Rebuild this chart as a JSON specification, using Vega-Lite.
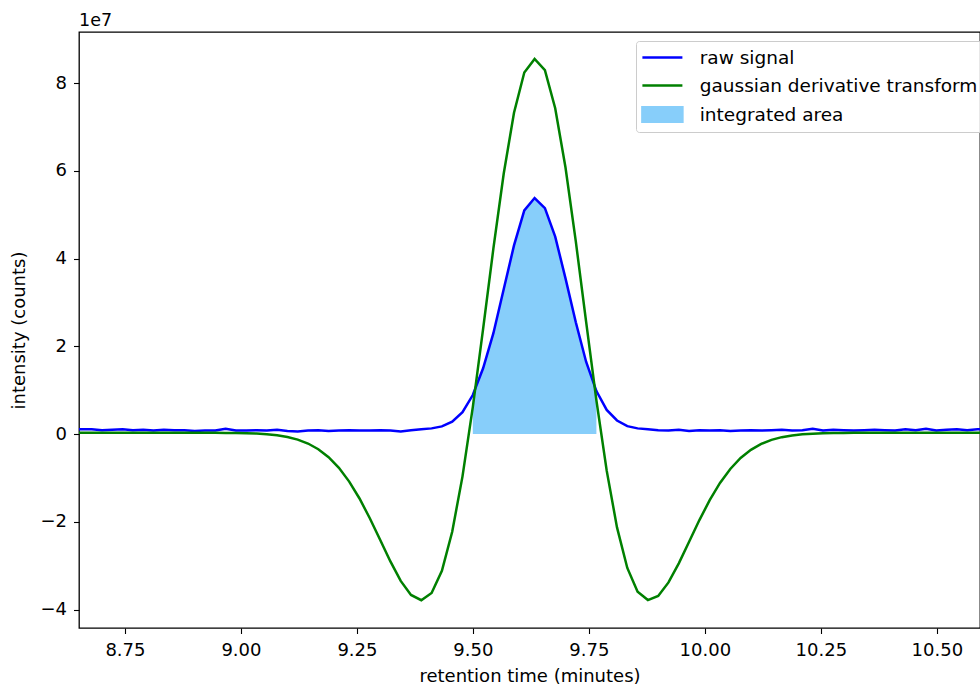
{
  "$schema": "https://vega.github.io/schema/vega-lite/v6.json",
  "width": 901,
  "height": 596,
  "autosize": {"type": "none"},
  "padding": {"left": 79, "top": 32, "right": 0, "bottom": 57},
  "background": "white",
  "config": {
    "font": "DejaVu Sans",
    "view": {"stroke": "#000000", "strokeWidth": 1.3},
    "axis": {
      "domain": false,
      "grid": false,
      "tickColor": "#000000",
      "tickSize": 5.5,
      "tickWidth": 1.1,
      "labelFont": "DejaVu Sans",
      "labelFontSize": 18,
      "labelColor": "#000000",
      "titleFont": "DejaVu Sans",
      "titleFontSize": 18,
      "titleFontWeight": "normal",
      "titleColor": "#000000"
    }
  },
  "title": {
    "text": "1e7",
    "anchor": "start",
    "frame": "group",
    "fontSize": 17.5,
    "fontWeight": "normal",
    "font": "DejaVu Sans",
    "color": "#000000",
    "offset": 3
  },
  "data": {
    "values": [
      {"t": 8.634, "raw": 1000000, "gauss": 300000},
      {"t": 8.6562, "raw": 1100000, "gauss": 300000},
      {"t": 8.6784, "raw": 1100000, "gauss": 300000},
      {"t": 8.7006, "raw": 900000, "gauss": 300000},
      {"t": 8.7228, "raw": 1000000, "gauss": 300000},
      {"t": 8.745, "raw": 1100000, "gauss": 300000},
      {"t": 8.7672, "raw": 900000, "gauss": 300000},
      {"t": 8.7894, "raw": 1000000, "gauss": 300000},
      {"t": 8.8116, "raw": 800000, "gauss": 300000},
      {"t": 8.8338, "raw": 1000000, "gauss": 300000},
      {"t": 8.856, "raw": 900000, "gauss": 300000},
      {"t": 8.8782, "raw": 900000, "gauss": 300000},
      {"t": 8.9004, "raw": 700000, "gauss": 300000},
      {"t": 8.9226, "raw": 800000, "gauss": 300000},
      {"t": 8.9448, "raw": 800000, "gauss": 300000},
      {"t": 8.967, "raw": 1200000, "gauss": 270000},
      {"t": 8.9892, "raw": 800000, "gauss": 244000},
      {"t": 9.0114, "raw": 800000, "gauss": 196000},
      {"t": 9.0336, "raw": 900000, "gauss": 111000},
      {"t": 9.0558, "raw": 800000, "gauss": -34000},
      {"t": 9.078, "raw": 1000000, "gauss": -275000},
      {"t": 9.1002, "raw": 700000, "gauss": -659000},
      {"t": 9.1224, "raw": 600000, "gauss": -1257000},
      {"t": 9.1446, "raw": 800000, "gauss": -2150000},
      {"t": 9.1668, "raw": 900000, "gauss": -3447000},
      {"t": 9.189, "raw": 700000, "gauss": -5258000},
      {"t": 9.2112, "raw": 800000, "gauss": -7689000},
      {"t": 9.2334, "raw": 900000, "gauss": -10825000},
      {"t": 9.2556, "raw": 800000, "gauss": -14680000},
      {"t": 9.2778, "raw": 800000, "gauss": -19170000},
      {"t": 9.3, "raw": 900000, "gauss": -24080000},
      {"t": 9.3222, "raw": 800000, "gauss": -29030000},
      {"t": 9.3444, "raw": 600000, "gauss": -33460000},
      {"t": 9.3666, "raw": 900000, "gauss": -36660000},
      {"t": 9.3888, "raw": 1100000, "gauss": -37860000},
      {"t": 9.411, "raw": 1300000, "gauss": -36230000},
      {"t": 9.4332, "raw": 1750000, "gauss": -31150000},
      {"t": 9.4554, "raw": 2850000, "gauss": -22250000},
      {"t": 9.4776, "raw": 5000000, "gauss": -9635000},
      {"t": 9.4998, "raw": 8900000, "gauss": 6142000},
      {"t": 9.522, "raw": 15000000, "gauss": 23970000},
      {"t": 9.5442, "raw": 23000000, "gauss": 42310000},
      {"t": 9.5664, "raw": 33000000, "gauss": 59340000},
      {"t": 9.5886, "raw": 43000000, "gauss": 73240000},
      {"t": 9.6108, "raw": 51000000, "gauss": 82410000},
      {"t": 9.633, "raw": 53800000, "gauss": 85500000},
      {"t": 9.6552, "raw": 51500000, "gauss": 82970000},
      {"t": 9.6774, "raw": 45000000, "gauss": 74280000},
      {"t": 9.6996, "raw": 35500000, "gauss": 60750000},
      {"t": 9.7218, "raw": 25500000, "gauss": 43920000},
      {"t": 9.744, "raw": 16500000, "gauss": 25640000},
      {"t": 9.7662, "raw": 9800000, "gauss": 7690000},
      {"t": 9.7884, "raw": 5500000, "gauss": -8330000},
      {"t": 9.8106, "raw": 3100000, "gauss": -21270000},
      {"t": 9.8328, "raw": 1800000, "gauss": -30510000},
      {"t": 9.855, "raw": 1300000, "gauss": -35920000},
      {"t": 9.8772, "raw": 1100000, "gauss": -37830000},
      {"t": 9.8994, "raw": 900000, "gauss": -36880000},
      {"t": 9.9216, "raw": 800000, "gauss": -33810000},
      {"t": 9.9438, "raw": 1000000, "gauss": -29460000},
      {"t": 9.966, "raw": 700000, "gauss": -24530000},
      {"t": 9.9882, "raw": 900000, "gauss": -19600000},
      {"t": 10.0104, "raw": 800000, "gauss": -15060000},
      {"t": 10.0326, "raw": 900000, "gauss": -11140000},
      {"t": 10.0548, "raw": 700000, "gauss": -7944000},
      {"t": 10.077, "raw": 800000, "gauss": -5449000},
      {"t": 10.0992, "raw": 900000, "gauss": -3585000},
      {"t": 10.1214, "raw": 800000, "gauss": -2250000},
      {"t": 10.1436, "raw": 900000, "gauss": -1322000},
      {"t": 10.1658, "raw": 1000000, "gauss": -702000},
      {"t": 10.188, "raw": 800000, "gauss": -302000},
      {"t": 10.2102, "raw": 900000, "gauss": -52000},
      {"t": 10.2324, "raw": 1200000, "gauss": 101000},
      {"t": 10.2546, "raw": 800000, "gauss": 190000},
      {"t": 10.2768, "raw": 1000000, "gauss": 240000},
      {"t": 10.299, "raw": 900000, "gauss": 270000},
      {"t": 10.3212, "raw": 800000, "gauss": 300000},
      {"t": 10.3434, "raw": 900000, "gauss": 300000},
      {"t": 10.3656, "raw": 1000000, "gauss": 300000},
      {"t": 10.3878, "raw": 900000, "gauss": 300000},
      {"t": 10.41, "raw": 800000, "gauss": 300000},
      {"t": 10.4322, "raw": 1100000, "gauss": 300000},
      {"t": 10.4544, "raw": 900000, "gauss": 300000},
      {"t": 10.4766, "raw": 1200000, "gauss": 300000},
      {"t": 10.4988, "raw": 800000, "gauss": 300000},
      {"t": 10.521, "raw": 1000000, "gauss": 300000},
      {"t": 10.5432, "raw": 1100000, "gauss": 300000},
      {"t": 10.5654, "raw": 900000, "gauss": 300000},
      {"t": 10.5876, "raw": 1100000, "gauss": 300000},
      {"t": 10.6098, "raw": 1000000, "gauss": 300000}
    ]
  },
  "encoding": {
    "x": {
      "field": "t",
      "type": "quantitative",
      "scale": {"domain": [8.651, 10.593], "nice": false, "zero": false},
      "axis": {
        "title": "retention time (minutes)",
        "values": [8.75, 9.0, 9.25, 9.5, 9.75, 10.0, 10.25, 10.5],
        "format": ".2f",
        "labelPadding": 8,
        "titlePadding": 8
      }
    }
  },
  "layer": [
    {
      "transform": [{"filter": "datum.t >= 9.49 && datum.t <= 9.77"}],
      "mark": {"type": "area", "clip": true},
      "encoding": {
        "y": {
          "field": "raw",
          "type": "quantitative",
          "scale": {"domain": [-44200000, 91650000], "nice": false, "zero": false},
          "axis": {
            "title": "intensity (counts)",
            "values": [-40000000, -20000000, 0, 20000000, 40000000, 60000000, 80000000],
            "labelExpr": "format(datum.value / 10000000, 'd')",
            "labelPadding": 7,
            "titlePadding": 11
          }
        },
        "color": {
          "datum": "integrated area",
          "type": "nominal",
          "scale": {
            "domain": ["raw signal", "gaussian derivative transform", "integrated area"],
            "range": ["#0000ff", "#008000", "#87cefa"]
          },
          "legend": {
            "orient": "none",
            "legendX": 557,
            "legendY": 9,
            "title": null,
            "symbolSize": 400,
            "symbolStrokeWidth": 2.5,
            "labelFontSize": 18.5,
            "labelFont": "DejaVu Sans",
            "labelColor": "#000000",
            "labelLimit": 0,
            "labelOffset": 35.7,
            "rowPadding": 7,
            "padding": 5,
            "strokeColor": "#cccccc",
            "fillColor": "rgba(255,255,255,0.8)",
            "cornerRadius": 3,
            "encode": {
              "symbols": {
                "update": {
                  "x": {"value": 21.4},
                  "shape": {"signal": "datum.label === 'integrated area' ? 'M-2,-0.735H2V0.735H-2Z' : 'M-2,0H2'"},
                  "fill": {"signal": "datum.label === 'integrated area' ? '#87cefa' : 'transparent'"},
                  "stroke": {"signal": "datum.label === 'integrated area' ? 'transparent' : (datum.label === 'raw signal' ? '#0000ff' : '#008000')"},
                  "strokeWidth": {"value": 2.5},
                  "opacity": {"value": 1}
                }
              }
            }
          }
        }
      }
    },
    {
      "mark": {"type": "line", "clip": true, "strokeWidth": 2.5},
      "encoding": {
        "y": {"field": "raw", "type": "quantitative"},
        "color": {"datum": "raw signal", "type": "nominal"}
      }
    },
    {
      "mark": {"type": "line", "clip": true, "strokeWidth": 2.5},
      "encoding": {
        "y": {"field": "gauss", "type": "quantitative"},
        "color": {"datum": "gaussian derivative transform", "type": "nominal"}
      }
    }
  ]
}
